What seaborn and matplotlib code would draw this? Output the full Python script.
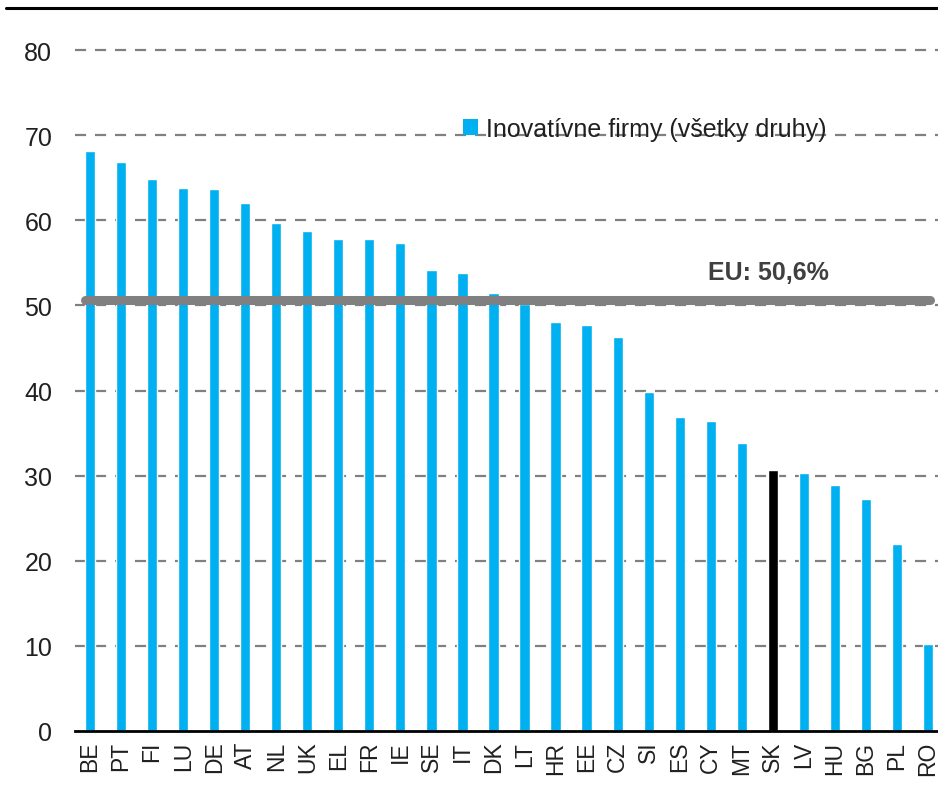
import matplotlib
matplotlib.use('Agg')
import matplotlib.pyplot as plt
import seaborn as sns
from matplotlib.patches import Patch
from matplotlib.lines import Line2D

countries = ['BE', 'PT', 'FI', 'LU', 'DE', 'AT', 'NL', 'UK', 'EL', 'FR', 'IE', 'SE', 'IT', 'DK',
             'LT', 'HR', 'EE', 'CZ', 'SI', 'ES', 'CY', 'MT', 'SK', 'LV', 'HU', 'BG', 'PL', 'RO']
values = [68.1, 66.9, 64.8, 63.8, 63.7, 62.0, 59.7, 58.7, 57.8, 57.8, 57.3, 54.2, 53.8, 51.5,
          50.2, 48.0, 47.7, 46.3, 39.8, 36.9, 36.4, 33.8, 30.7, 30.3, 28.9, 27.3, 22.0, 10.2]
eu_avg = 50.6
eu_label = 'EU: 50,6%'
legend_label = 'Inovatívne firmy (všetky druhy)'
y_ticks = [0, 10, 20, 30, 40, 50, 60, 70, 80]
highlight = 'SK'

BLUE = '#00B0F0'
GREY = '#808080'

sns.set_style('white')
plt.rcParams['font.family'] = ['Liberation Sans', 'DejaVu Sans']

fig = plt.figure(figsize=(9.38, 8.03), dpi=100)
ax = fig.add_axes([74.5 / 938, 71 / 803, 869 / 938, 715 / 803])

colors = ['black' if c == highlight else BLUE for c in countries]
sns.barplot(x=countries, y=values, hue=countries, palette=colors, legend=False,
            width=0.33, saturation=1, ax=ax, zorder=2)

ax.set_ylim(0, 84)
ax.set_xlim(-0.5, len(countries) - 0.5)
ax.set_yticks(y_ticks)
for t in y_ticks[1:]:
    ax.axhline(t, color=GREY, lw=1.6, ls=(0, (5, 4)), zorder=1)

# EU average line
ax.axhline(eu_avg, xmin=0.012, xmax=0.985, color=GREY, lw=6.5,
           solid_capstyle='round', zorder=3)
ax.text(0.798, eu_avg + 3.3, eu_label, transform=ax.get_yaxis_transform(),
        fontsize=18, fontweight='bold', color='#404040', ha='center', va='center')

ax.set_xlabel('')
ax.set_ylabel('')
ax.tick_params(axis='y', length=0, pad=16, labelsize=18, labelcolor='#202020')
ax.tick_params(axis='x', length=0, pad=7, labelsize=16.5, labelrotation=90, labelcolor='#202020')
for s in ['left', 'right', 'top']:
    ax.spines[s].set_visible(False)
ax.spines['bottom'].set_color('black')
ax.spines['bottom'].set_linewidth(2)
ax.spines['bottom'].set_zorder(4)

handle = Patch(facecolor=BLUE, edgecolor='none')
ax.legend([handle], [legend_label], loc='center left', frameon=False,
          bbox_to_anchor=(463 / 938, 1 - 130 / 803), bbox_transform=fig.transFigure,
          fontsize=18, handlelength=0.6, handleheight=0.6, handletextpad=0.3,
          borderpad=0, borderaxespad=0, labelcolor='#202020')

# top rule
fig.add_artist(Line2D([6 / 938, 1], [1 - 9 / 803, 1 - 9 / 803], color='black', lw=2.2,
                      transform=fig.transFigure))

fig.savefig('out.png', dpi=100)
